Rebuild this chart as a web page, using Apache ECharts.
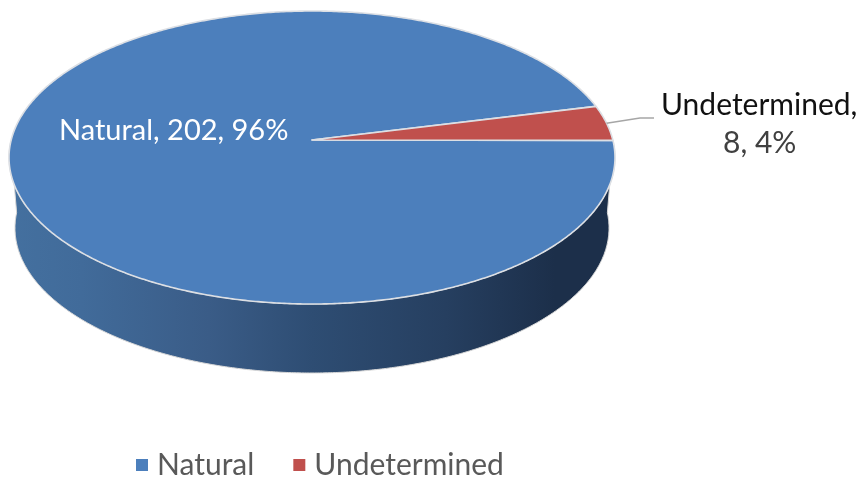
<!DOCTYPE html>
<html><head><meta charset="utf-8">
<style>html,body{margin:0;padding:0;background:#fff}#c{width:861px;height:477px}</style>
<script src="https://cdn.jsdelivr.net/npm/echarts@6/dist/echarts.min.js"></script>
</head><body><div id="c"></div>
<script>
const categories = ['Natural', 'Undetermined'];
const values = [202, 8];
const percents = ['96%', '4%'];
const colors = ['#4c7fbc', '#c0504d'];

const total = values.reduce((a, b) => a + b, 0);
const top3d = {cx: 312, cy: 157.5, rx: 303, ry: 146.5, apexX: 312, apexY: 140};
const bottom3d = {cx: 312, cy: 228, rx: 297, ry: 145};
const startDeg = 6.7;
const rad = d => d * Math.PI / 180;
const pt = (e, d) => [e.cx + e.rx * Math.cos(rad(d)), e.cy - e.ry * Math.sin(rad(d))];

function arc(e, from, to) {
  const out = [], n = Math.ceil(Math.abs(to - from) * 2);
  for (let i = 0; i <= n; i++) out.push(pt(e, from + (to - from) * i / n));
  return out;
}
// Undetermined sweeps up from startDeg; Natural takes the rest of the turn.
const sweep = values.map(v => v / total * 360);
const range = [
  [startDeg + sweep[1], startDeg + 360],
  [startDeg, startDeg + sweep[1]]
];

function renderSlice(idx) {
  return function (params, api) {
    const [from, to] = range[idx];
    const children = [];
    if (idx === 0) {
      const side = arc(top3d, 174, 366).concat(arc(bottom3d, 366, 174));
      children.push({
        type: 'polygon',
        shape: {points: side},
        style: {
          fill: new echarts.graphic.LinearGradient(0, 0, 1, 0, [
            {offset: 0, color: '#44709f'},
            {offset: 0.12, color: '#416b9a'},
            {offset: 0.33, color: '#3a5c87'},
            {offset: 0.5, color: '#2e4d73'},
            {offset: 0.72, color: '#263f60'},
            {offset: 0.9, color: '#1c2f4a'},
            {offset: 1, color: '#1c2f4a'}
          ]),
          stroke: '#d8d8d8', lineWidth: 1
        }
      });
    }
    children.push({
      type: 'polygon',
      shape: {points: [[top3d.apexX, top3d.apexY]].concat(arc(top3d, from, to))},
      style: {fill: colors[idx], stroke: '#dcdfe4', lineWidth: 1.6, lineJoin: 'round'}
    });
    return {type: 'group', children};
  };
}

const midUndet = pt(top3d, (range[1][0] + range[1][1]) / 2);

const chart = echarts.init(document.getElementById('c'), null, {renderer: 'canvas'});
chart.setOption({
  animation: false,
  backgroundColor: '#fff',
  color: colors,
  legend: {
    data: categories, left: 131, top: 445, icon: 'rect',
    itemWidth: 12, itemHeight: 12, itemGap: 39,
    textStyle: {fontFamily: 'Lato', fontSize: 30, color: '#595959', padding: [0, 0, 0, 4]}
  },
  series: categories.map((name, i) => ({
    type: 'custom', name, coordinateSystem: 'none', silent: true,
    data: [[values[i]]], renderItem: renderSlice(i)
  })),
  graphic: [
    {type: 'polyline', shape: {points: [midUndet, [640, 118], [654, 118]]},
     style: {stroke: '#a6a6a6', lineWidth: 1.5, fill: null}, z: 10},
    {type: 'text', left: 59, top: 116, z: 10,
     style: {text: `${categories[0]}, ${values[0]}, ${percents[0]}`, fill: '#fff', font: '29px Lato'}},
    {type: 'text', left: 661, top: 90, z: 10,
     style: {text: `${categories[1]},`, fill: '#111', font: '30px Lato'}},
    {type: 'text', left: 723, top: 128, z: 10,
     style: {text: `${values[1]}, ${percents[1]}`, fill: '#404040', font: '30px Lato'}}
  ]
});
</script></body></html>
